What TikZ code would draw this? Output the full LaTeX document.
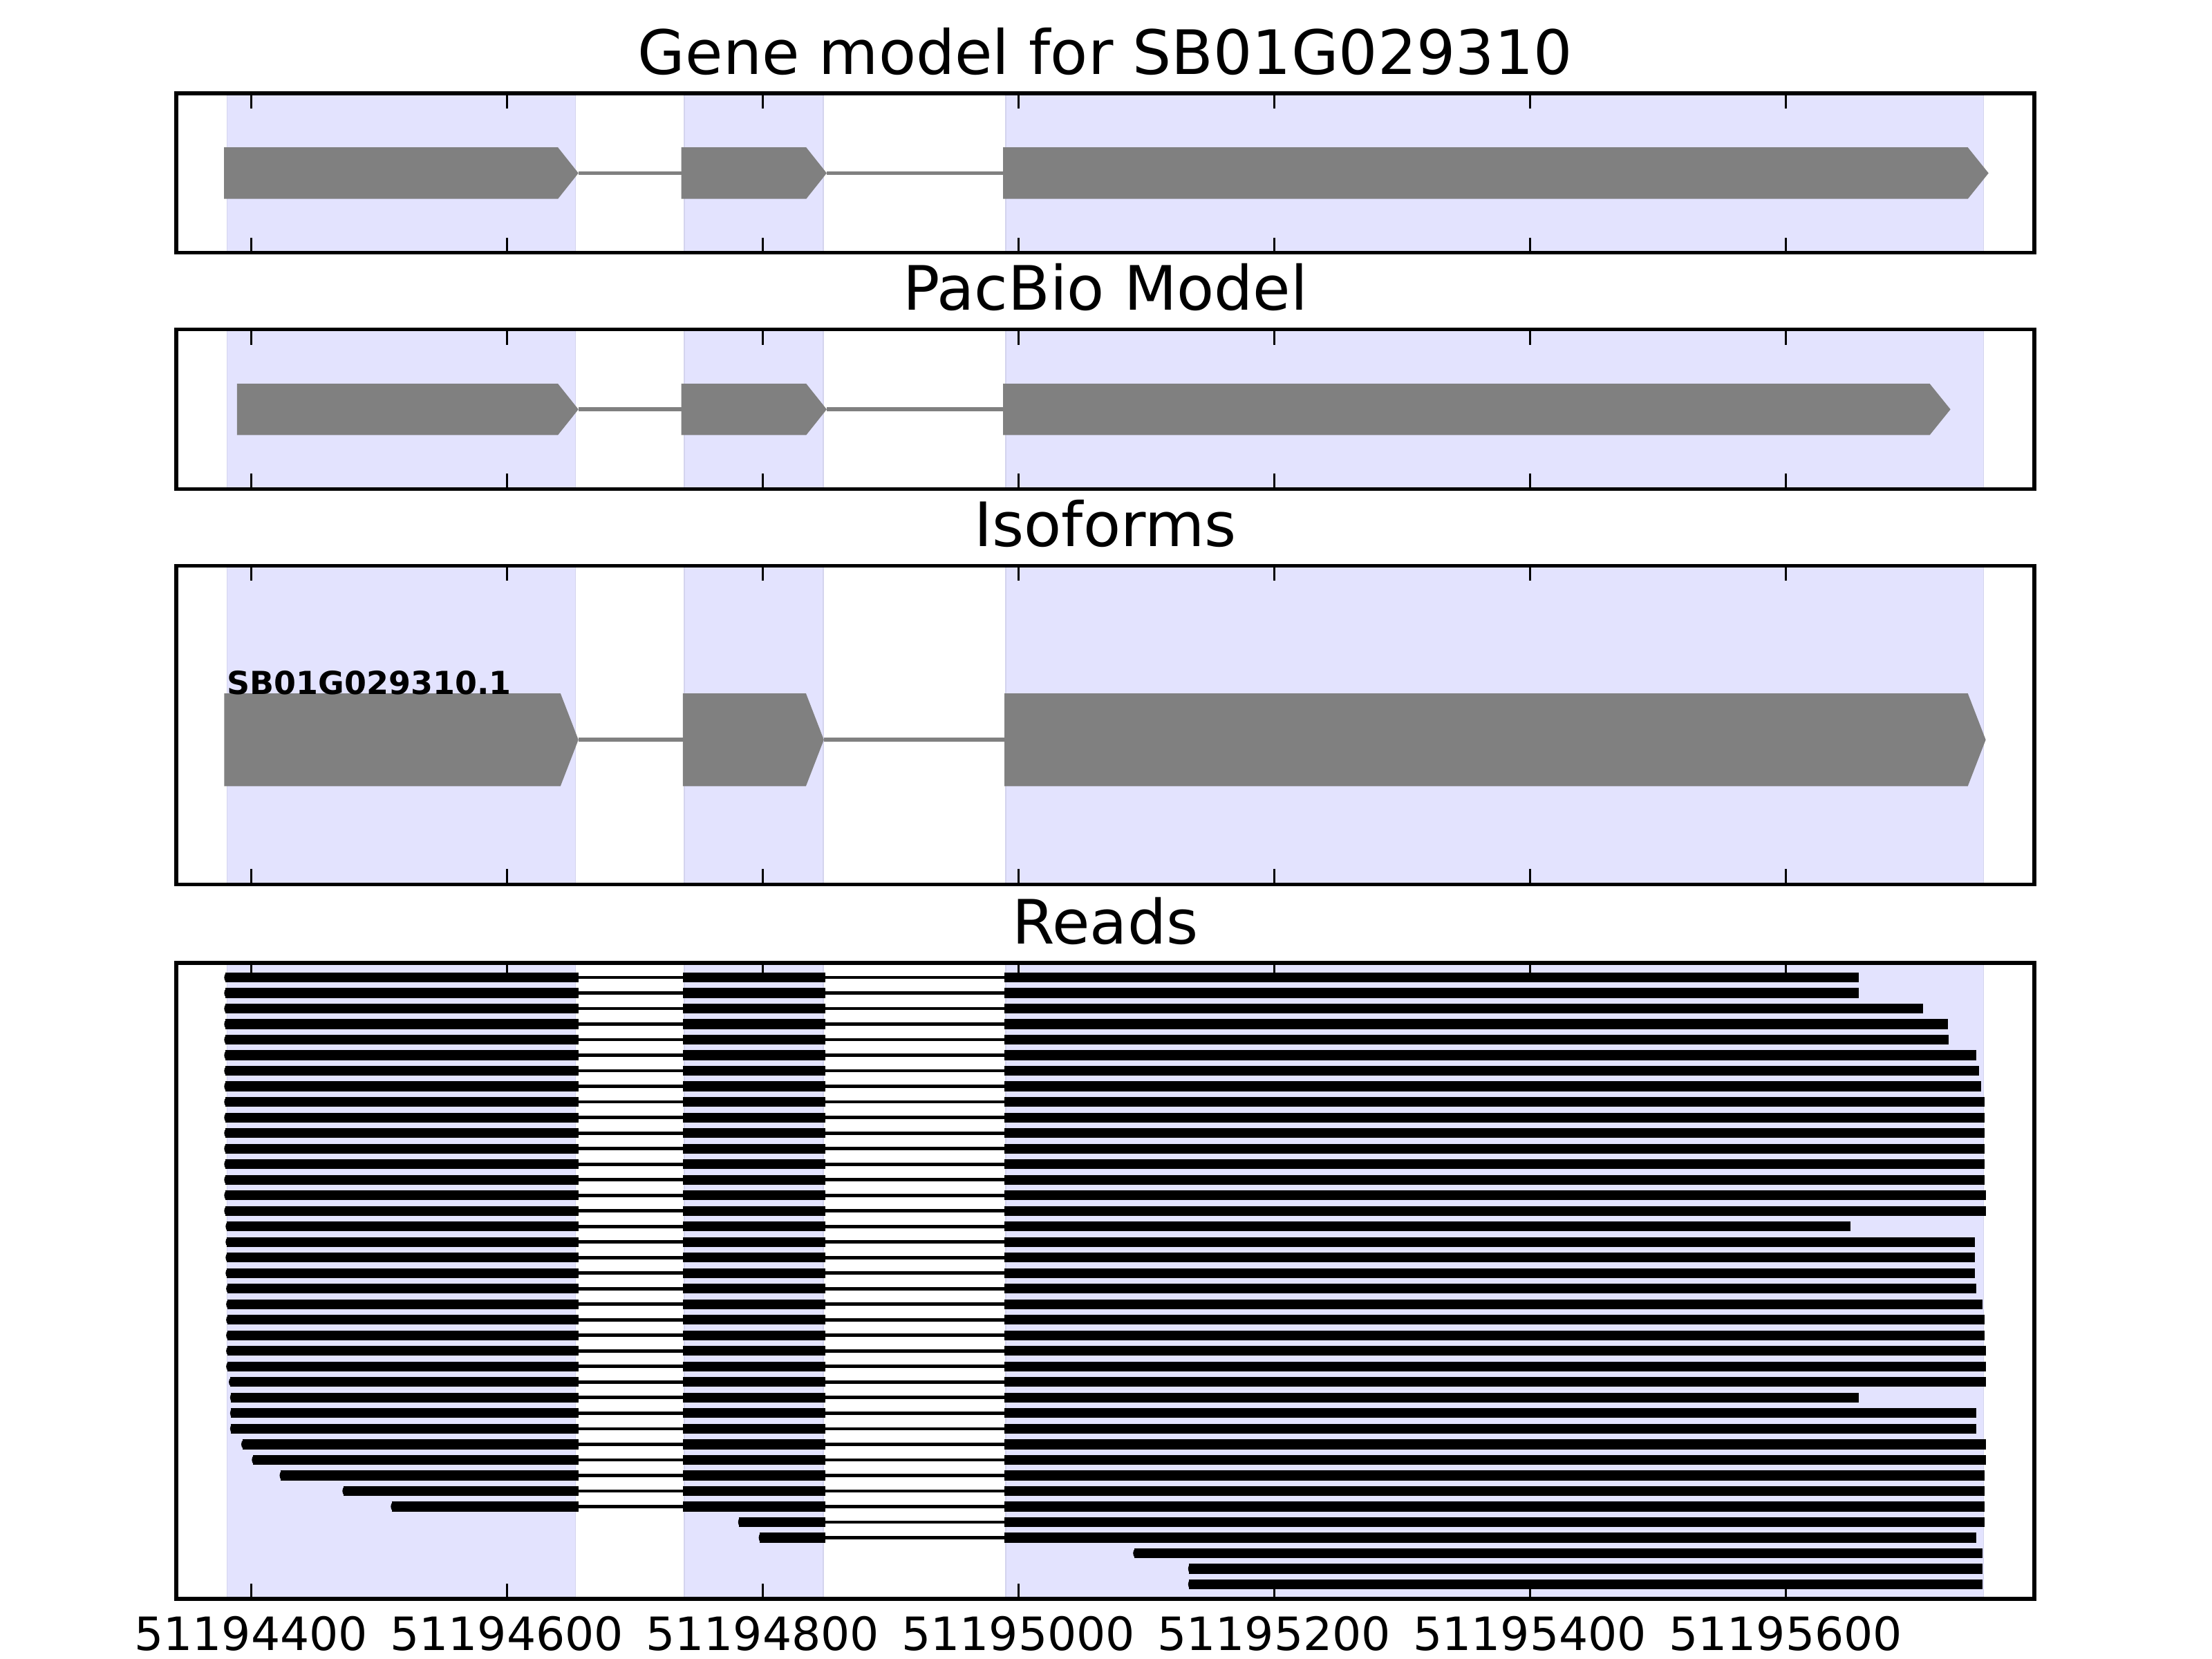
\documentclass[tikz,border=0pt]{standalone}
\usepackage{fontspec}
\setmainfont{DejaVu Sans}
\definecolor{bgblue}{RGB}{227,227,254}
\definecolor{bgedge}{RGB}{212,212,238}
\definecolor{genegray}{RGB}{128,128,128}
\newcommand{\garrow}[6]{\fill[genebox] (#1,#4) -- (#2,#4) -- (#3,#6) -- (#2,#5) -- (#1,#5) -- cycle;}
\begin{document}
\begin{tikzpicture}[x=0.36873pt,y=-0.36873pt,
  exonbg/.style={fill=bgblue, draw=bgedge, line width=0.3pt},
  genebox/.style={fill=genegray},
  geneintron/.style={draw=genegray, line width=1pt},
  readintron/.style={draw=black, line width=0.85pt},
  frame/.style={draw=black, line width=1pt},
  tickmark/.style={draw=black, line width=0.5pt},
  ttl/.style={font=\fontsize{16}{19}\selectfont, anchor=base, inner sep=0pt},
  ticklbl/.style={font=\fontsize{12}{14}\selectfont, anchor=base, inner sep=0pt}]
\useasboundingbox (0,0) rectangle (1568,1176);
\fill[white] (0,0) rectangle (1568,1176);
% exon shading
\foreach \t/\b in {66.1/179.2, 233.6/346.6, 401/627, 682.5/1133.5} {
  \foreach \a/\c in {161/408, 485/583.5, 713/1406} {
    \path[exonbg] (\a,\t) rectangle (\c,\b);
  }
}
% Gene model
\garrow{158.8}{395.5}{410}{104.5}{141}{122.75}
\draw[geneintron] (410,122.75) -- (483,122.75);
\garrow{483}{571.5}{586}{104.5}{141}{122.75}
\draw[geneintron] (586,122.75) -- (711,122.75);
\garrow{711}{1394.9}{1409.6}{104.5}{141}{122.75}
% PacBio model
\garrow{168}{395.5}{410}{272}{308.4}{290.2}
\draw[geneintron] (410,290.2) -- (483,290.2);
\garrow{483}{571.5}{586}{272}{308.4}{290.2}
\draw[geneintron] (586,290.2) -- (711,290.2);
\garrow{711}{1367.9}{1382.6}{272}{308.4}{290.2}
% Isoforms
\garrow{158.9}{397.3}{410}{491.5}{557.3}{524.4}
\draw[geneintron] (410,524.4) -- (484,524.4);
\garrow{484}{571.3}{584}{491.5}{557.3}{524.4}
\draw[geneintron] (584,524.4) -- (712,524.4);
\garrow{712}{1394.9}{1407.6}{491.5}{557.3}{524.4}
\node[anchor=base west, inner sep=0pt, font=\bfseries\fontsize{8.3}{10}\selectfont] (isolbl) at (160.5,492.4) {SB01G029310.1};
% Reads spanning all three exons
\foreach \i/\s/\e in {1/159.7/1317.7, 2/159.7/1317.7, 3/159.7/1363.0, 4/159.7/1380.6, 5/159.7/1381.1,
  6/159.7/1401.0, 7/159.7/1403.0, 8/159.7/1404.1, 9/159.7/1406.6, 10/159.7/1406.6, 11/159.7/1406.6,
  12/159.7/1406.6, 13/159.7/1406.6, 14/159.7/1406.6, 15/159.7/1407.6, 16/159.7/1407.6,
  17/160.7/1311.5, 18/160.7/1400.0, 19/160.7/1400.0, 20/160.7/1400.0,
  21/161.1/1401.0, 22/161.1/1405.1, 23/161.1/1406.6, 24/161.1/1406.6, 25/161.1/1407.6, 26/161.1/1407.6,
  27/163/1407.6, 28/163.9/1317.7, 29/163.9/1401.0, 30/163.9/1401.0, 31/171.8/1407.6, 32/179.3/1407.6,
  33/199/1406.6, 34/243.5/1406.6, 35/277.8/1406.6} {
  \pgfmathsetmacro\yy{692.9+(\i-1)*11.03}
  \draw[readintron] (410,\yy) -- (484,\yy) (585,\yy) -- (712,\yy);
  \fill (\s,\yy-3.5) rectangle (410,\yy+3.5);
  \fill (484,\yy-3.5) rectangle (585,\yy+3.5);
  \fill (712,\yy-3.5) rectangle (\e,\yy+3.5);
  \fill (\s+0.6,\yy) ellipse (1.4 and 2.8);
}
% Reads starting in exon 2
\foreach \i/\s/\e in {36/524/1406.6, 37/538.6/1401.0} {
  \pgfmathsetmacro\yy{692.9+(\i-1)*11.03}
  \draw[readintron] (585,\yy) -- (712,\yy);
  \fill (\s,\yy-3.5) rectangle (585,\yy+3.5);
  \fill (712,\yy-3.5) rectangle (\e,\yy+3.5);
  \fill (\s+0.6,\yy) ellipse (1.4 and 2.8);
}
% Reads within exon 3
\foreach \i/\s/\e in {38/804/1405.1, 39/843/1405.1, 40/843/1405.1} {
  \pgfmathsetmacro\yy{692.9+(\i-1)*11.03}
  \fill (\s,\yy-3.5) rectangle (\e,\yy+3.5);
  \fill (\s+0.6,\yy) ellipse (1.4 and 2.8);
}
% ticks and frames
\foreach \t/\b in {66.1/179.2, 233.6/346.6, 401/627, 682.5/1133.5} {
  \foreach \xx in {178,359.3,540.6,721.9,903.2,1084.5,1265.8} {
    \draw[tickmark] (\xx,\t) -- ++(0,10.85);
    \draw[tickmark] (\xx,\b) -- ++(0,-10.85);
  }
  \draw[frame] (125,\t) rectangle (1442,\b);
}
% titles
\node[ttl] (t1) at (783.5,52.5) {Gene model for SB01G029310};
\node[ttl] (t2) at (783.5,220.0) {PacBio Model};
\node[ttl] (t3) at (783.5,387.4) {Isoforms};
\node[ttl] (t4) at (783.5,668.9) {Reads};
% tick labels
\node[ticklbl] (l1) at (178,1170) {51194400};
\node[ticklbl] (l2) at (359.3,1170) {51194600};
\node[ticklbl] (l3) at (540.6,1170) {51194800};
\node[ticklbl] (l4) at (721.9,1170) {51195000};
\node[ticklbl] (l5) at (903.2,1170) {51195200};
\node[ticklbl] (l6) at (1084.5,1170) {51195400};
\node[ticklbl] (l7) at (1265.8,1170) {51195600};
\end{tikzpicture}
\end{document}
